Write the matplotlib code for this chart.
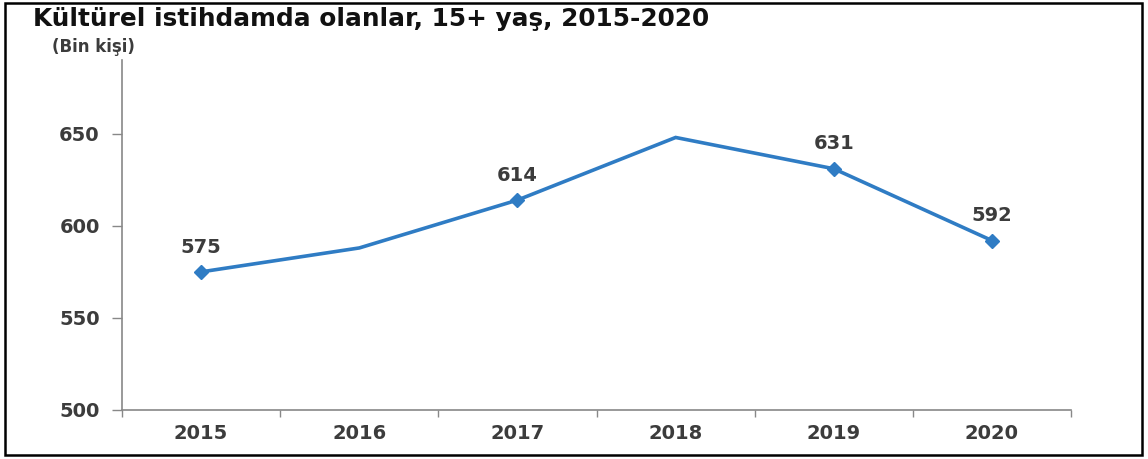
import numpy as np
import matplotlib.pyplot as plt
from matplotlib.patches import Rectangle

# Kültürel istihdam verisi (bin kişi)
years = ['2015', '2016', '2017', '2018', '2019', '2020']
values = [575, 588, 614, 648, 631, 592]
labelled = [True, False, True, False, True, True]

plt.rcParams['font.family'] = ['DejaVu Sans']

fig = plt.figure(figsize=(11.48, 4.59), dpi=100)
ax = fig.add_axes([0.1063, 0.1068, 0.8267, 0.7622])

x = np.arange(len(years))
line_color = '#2f7cc4'
text_color = '#3c3c3c'
ax.plot(x, values, color=line_color, lw=2.6, solid_joinstyle='miter')

mx = [i for i in x if labelled[i]]
my = [values[i] for i in x if labelled[i]]
ax.plot(mx, my, ls='none', marker='D', ms=7.5, color=line_color)
for i, v in zip(mx, my):
    ax.annotate(str(v), (i, v), xytext=(0, 11), textcoords='offset points',
                ha='center', va='bottom', fontsize=14, fontweight='bold',
                color=text_color)

ax.set_xlim(-0.5, len(years) - 0.5)
ax.set_ylim(500, 690)
ax.set_yticks([500, 550, 600, 650])
ax.tick_params(axis='y', labelsize=14, labelcolor=text_color, color='#888888',
               length=7, width=1, pad=9)
for t in ax.get_yticklabels():
    t.set_fontweight('bold')

# kategori ekseni: işaretler sınırlarda, etiketler ortada
ax.set_xticks(np.arange(len(years) + 1) - 0.5)
ax.set_xticklabels([])
ax.set_xticks(x, minor=True)
ax.set_xticklabels(years, minor=True, fontweight='bold')
ax.tick_params(axis='x', which='major', direction='out', length=5, width=1,
               color='#888888')
ax.tick_params(axis='x', which='minor', length=0, labelsize=14,
               labelcolor=text_color, pad=10)

for s in ['top', 'right']:
    ax.spines[s].set_visible(False)
for s in ['left', 'bottom']:
    ax.spines[s].set_color('#888888')
    ax.spines[s].set_linewidth(1.2)

fig.text(0.029, 0.958, 'Kültürel istihdamda olanlar, 15+ yaş, 2015-2020',
         fontsize=17.8, fontweight='bold', color='#111111', va='center', ha='left')
fig.text(0.045, 0.898, '(Bin kişi)', fontsize=12, fontweight='bold',
         color=text_color, va='center', ha='left')

fig.patches.append(Rectangle((0.004, 0.008), 0.991, 0.985, transform=fig.transFigure,
                             fill=False, edgecolor='black', lw=1.8))

fig.savefig('out.png', dpi=100)
